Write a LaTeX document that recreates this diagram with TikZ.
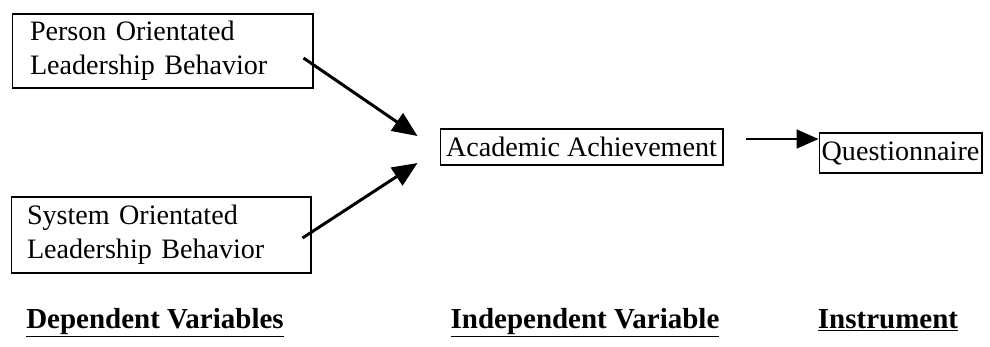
\documentclass[tikz,border=0pt]{standalone}
\usepackage{fontspec}
\setmainfont{Liberation Serif}
\usepackage{tikz}
\usetikzlibrary{arrows.meta, positioning}

\begin{document}
\begin{tikzpicture}[x=0.02cm, y=-0.02cm,
  box/.style={draw, line width=0.6pt, inner sep=0pt, font=\fontsize{16}{19.3}\selectfont},
  varbox/.style={box, align=left, minimum height=1.5cm},
  head/.style={font=\bfseries\fontsize{16.5}{19}\selectfont, anchor=base},
  link/.style={line width=1.7pt, -{Triangle[length=0.5cm, width=0.42cm]}}]
\useasboundingbox (0,0) rectangle (990,346);

% Cajas
\node[varbox, text width=5.3cm, minimum width=6.02cm, minimum height=1.48cm] (person) at (162.5,51)
  {Person Orientated\\Leadership Behavior};
\node[varbox, text width=5.36cm, minimum width=6.0cm, minimum height=1.52cm] (system) at (161,235)
  {System Orientated\\Leadership Behavior};
\node[box, minimum width=5.66cm, minimum height=0.72cm] (academic) at (581.5,147) {Academic Achievement};
\node[box, minimum width=3.26cm, minimum height=0.8cm] (quest) at (900.5,153) {Questionnaire};

% Titulos
\node[head] (dep) at (155,328) {\underline{Dependent Variables}};
\node[head] (indep) at (585,328) {\underline{Independent Variable}};
\node[head] (instr) at (888,328) {\underline{Instrument}};

% Puntas
\coordinate (pstart) at ([xshift=-0.2cm, yshift=-0.14cm]person.east);
\coordinate (sstart) at ([xshift=-0.18cm, yshift=-0.06cm]system.east);
\coordinate (ptip) at ([xshift=-0.44cm, yshift=0.22cm]academic.west);
\coordinate (stip) at ([xshift=-0.44cm, yshift=-0.32cm]academic.west);
\coordinate (astart) at ([xshift=0.44cm, yshift=0.16cm]academic.east);

% Flechas
\draw[link] (pstart) -- (ptip);
\draw[link] (sstart) -- (stip);
\draw[line width=1.1pt, -{Triangle[length=0.44cm, width=0.38cm]}] (astart) -- (astart -| quest.west);
\end{tikzpicture}
\end{document}
